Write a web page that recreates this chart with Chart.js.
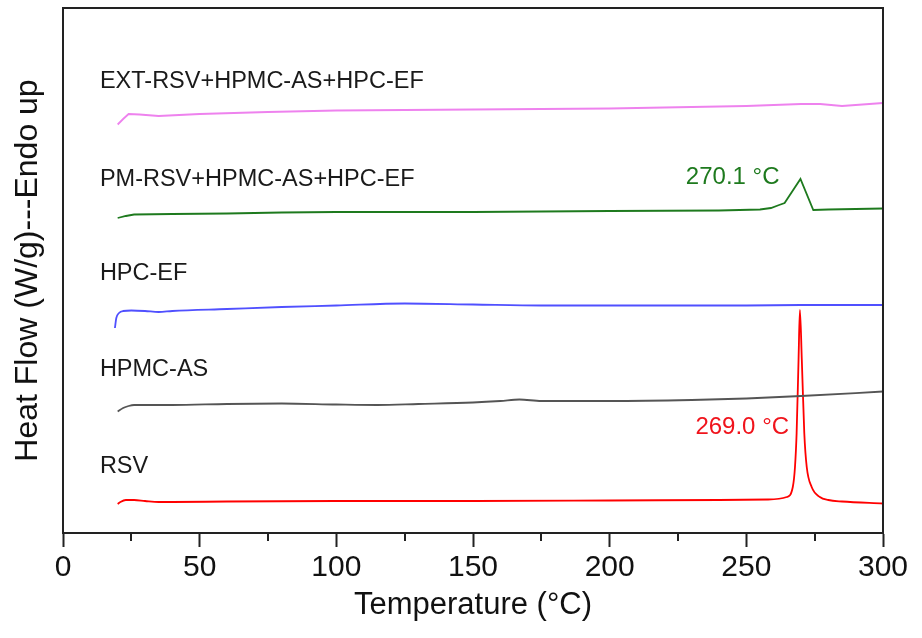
<!DOCTYPE html>
<html>
<head>
<meta charset="utf-8">
<script src="https://cdn.jsdelivr.net/npm/chart.js@4.4.0/dist/chart.umd.min.js"></script>
<style>
    body { margin: 0; background: #fff; }
    #wrap { width: 922px; height: 638px; }
</style>
</head>
<body>
<div id="wrap"><canvas id="dscChart"></canvas></div>
<script>
// temperatures (°C) and heat flow (arbitrary offset units, curves stacked)
const rsvT = [20, 21, 23, 26, 30, 35, 40, 60, 100, 150, 200, 240, 258, 264.8, 267, 267.8, 268.4, 269.1, 269.6, 270.3, 271.2, 272.1, 273.9, 276.9, 280, 285, 300];
const rsvY = [29, 31, 33, 33, 32, 31, 31, 31.5, 32, 32, 32.5, 33, 33.5, 36, 46, 66, 100, 173, 223, 173, 100, 66, 46, 36, 33, 31.5, 29.5];

const hpmcT = [20, 22, 24, 26, 40, 60, 80, 100, 115, 130, 150, 160, 167, 175, 200, 230, 250, 270, 300];
const hpmcY = [121.5, 125, 127, 128, 128, 129, 129.5, 128.5, 128, 129, 130.5, 132, 133.5, 132, 132, 133, 134.5, 137, 141.5];

const hpcT = [19, 19.5, 20.5, 22, 25, 30, 35, 40, 60, 80, 100, 125, 150, 175, 200, 250, 270, 300];
const hpcY = [205, 215, 220, 222, 222.5, 222, 221, 222, 224, 226, 227.5, 229.5, 228.5, 227.5, 227.5, 227.5, 228, 228];

const pmT = [20, 23, 26, 40, 60, 80, 100, 150, 200, 240, 255, 259, 262, 264, 269.8, 274.5, 280, 300];
const pmY = [315, 317, 318.5, 319, 319.5, 320.5, 321, 321, 322, 322.5, 323.5, 325, 328, 330, 354, 323, 323.5, 324.5];

const extT = [20, 22, 24, 28, 35, 50, 75, 100, 150, 200, 250, 270, 277, 285, 295, 300];
const extY = [408.5, 414, 419, 418.5, 417, 419, 421, 422.5, 423.5, 424.5, 427, 429, 429, 427, 429, 430];

const seriesNames = ['EXT-RSV+HPMC-AS+HPC-EF', 'PM-RSV+HPMC-AS+HPC-EF', 'HPC-EF', 'HPMC-AS', 'RSV'];
const nameY = [451, 353, 259, 163, 66];
const nameX = 13.5;

const peakText = ['270.1 °C', '269.0 °C'];
const peakX = [245, 248.5];
const peakY = [356, 106];

const xTicks = [0, 50, 100, 150, 200, 250, 300];
const xMinorTicks = [25, 75, 125, 175, 225, 275];

function pts(xs, ys) {
    return xs.map((x, i) => ({ x: x, y: ys[i] }));
}

const FONT = '"Liberation Sans", Arial, sans-serif';

const extrasPlugin = {
    id: 'extras',
    afterDraw(chart) {
        const c = chart.ctx;
        const a = chart.chartArea;
        const xs = chart.scales.x;
        const ys = chart.scales.y;
        c.save();
        // box frame
        c.strokeStyle = '#222';
        c.lineWidth = 2;
        c.strokeRect(a.left, a.top, a.right - a.left, a.bottom - a.top);
        // minor ticks
        c.beginPath();
        xMinorTicks.forEach(v => {
            const px = Math.round(xs.getPixelForValue(v));
            c.moveTo(px, a.bottom);
            c.lineTo(px, a.bottom + 8);
        });
        c.stroke();
        // curve names
        c.font = '23.5px ' + FONT;
        c.fillStyle = '#1a1a1a';
        c.textBaseline = 'middle';
        c.textAlign = 'left';
        seriesNames.forEach((n, i) => {
            c.fillText(n, xs.getPixelForValue(nameX), ys.getPixelForValue(nameY[i]));
        });
        // peak labels
        c.font = '24px ' + FONT;
        c.textAlign = 'center';
        c.fillStyle = '#1e7a1e';
        c.fillText(peakText[0], xs.getPixelForValue(peakX[0]), ys.getPixelForValue(peakY[0]));
        c.fillStyle = '#f0141c';
        c.fillText(peakText[1], xs.getPixelForValue(peakX[1]), ys.getPixelForValue(peakY[1]));
        c.restore();
    }
};

new Chart(document.getElementById('dscChart'), {
    type: 'line',
    data: {
        datasets: [
            { data: pts(extT, extY), borderColor: '#ee82ee', tension: 0 },
            { data: pts(pmT, pmY), borderColor: '#1e7a1e', tension: 0 },
            { data: pts(hpcT, hpcY), borderColor: '#5050ff', cubicInterpolationMode: 'monotone' },
            { data: pts(hpmcT, hpmcY), borderColor: '#555555', cubicInterpolationMode: 'monotone' },
            { data: pts(rsvT, rsvY), borderColor: '#ff0000', cubicInterpolationMode: 'monotone' }
        ]
    },
    options: {
        responsive: true,
        maintainAspectRatio: false,
        animation: false,
        events: [],
        elements: {
            point: { radius: 0 },
            line: { borderWidth: 1.8 }
        },
        layout: { padding: { top: 8, right: 39, left: 0, bottom: 0 } },
        plugins: {
            legend: { display: false },
            tooltip: { enabled: false }
        },
        scales: {
            x: {
                type: 'linear',
                min: 0,
                max: 300,
                afterBuildTicks: s => { s.ticks = xTicks.map(v => ({ value: v })); },
                afterFit: s => { s.height = 105; },
                ticks: {
                    color: '#111',
                    font: { family: FONT, size: 30 },
                    padding: 3
                },
                grid: {
                    display: true,
                    drawOnChartArea: false,
                    drawTicks: true,
                    tickLength: 14,
                    tickWidth: 2,
                    tickColor: '#222'
                },
                border: { display: true, color: '#222', width: 2 },
                title: {
                    display: true,
                    text: 'Temperature (°C)',
                    color: '#111',
                    font: { family: FONT, size: 31 },
                    padding: { top: 0, bottom: 14 }
                }
            },
            y: {
                type: 'linear',
                min: 0,
                max: 525,
                afterFit: s => { s.width = 63; },
                ticks: { display: false },
                grid: { display: false },
                border: { display: true, color: '#222', width: 2 },
                title: {
                    display: true,
                    text: 'Heat Flow (W/g)---Endo up',
                    color: '#111',
                    font: { family: FONT, size: 32 },
                    padding: { top: 9, bottom: 0 }
                }
            }
        }
    },
    plugins: [extrasPlugin]
});
</script>
</body>
</html>
